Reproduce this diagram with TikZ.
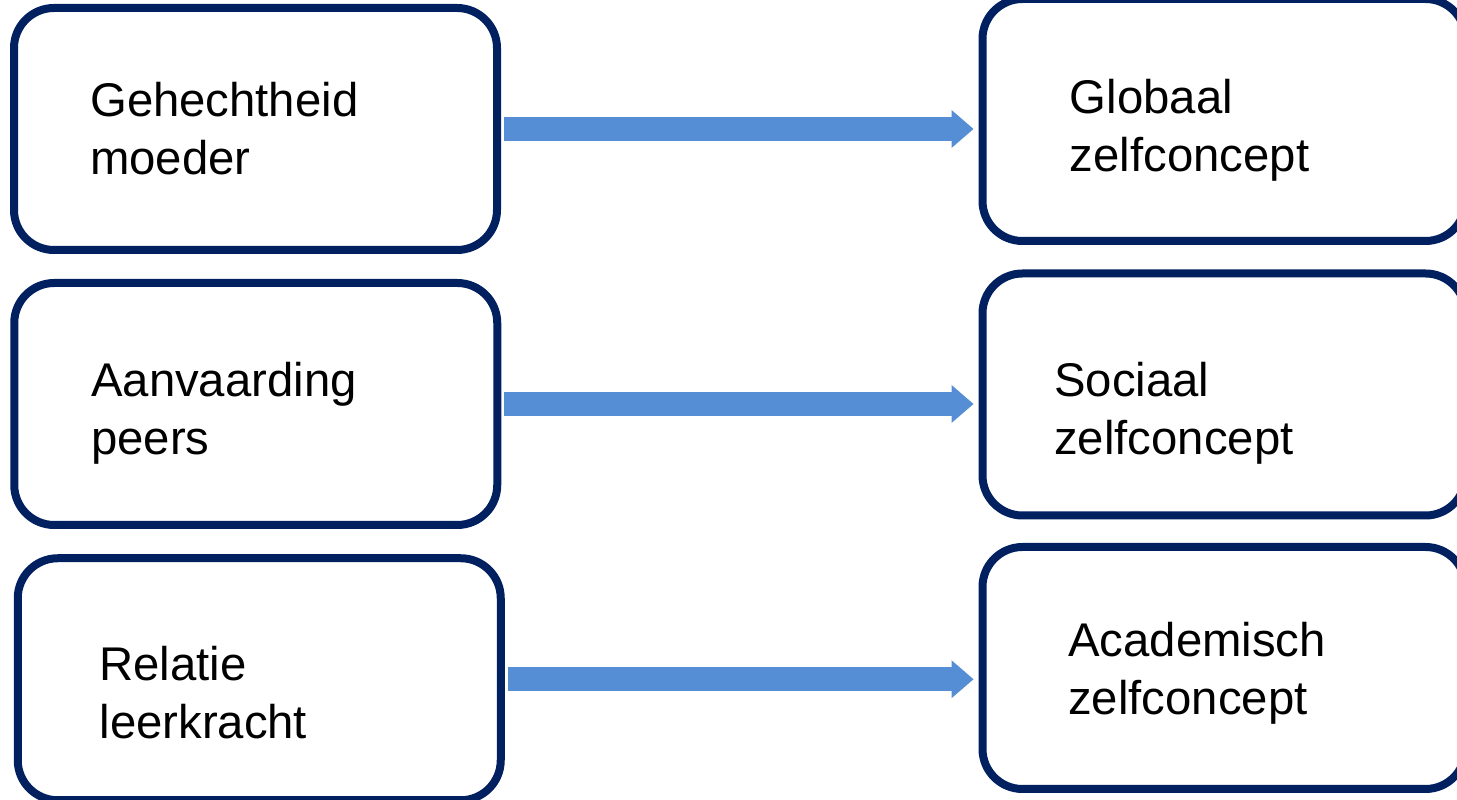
\documentclass[tikz,border=0pt]{standalone}
\usepackage{fontspec}
\setmainfont{Liberation Sans}
\usetikzlibrary{arrows.meta}
\definecolor{boxnavy}{HTML}{002060}
\definecolor{arrowblue}{HTML}{558ED5}

\begin{document}
\begin{tikzpicture}[x=1pt,y=1pt,
  vak/.style={draw=boxnavy, line width=8pt, rounded corners=40pt, minimum width=483pt, minimum height=242pt, inner sep=0pt},
  tekst/.style={anchor=base west, align=left, inner sep=0pt, font=\fontsize{47.3pt}{58pt}\selectfont},
  pijl/.style={arrowblue, line width=24pt, -{Triangle[length=22pt,width=38pt,line width=0pt]}, shorten <=3pt, shorten >=5pt}]
\useasboundingbox (0,0) rectangle (1457,800);
% linker kolom
\node[vak] (gehecht) at (255.5,671) {};
\node[vak] (aanvaard) at (255.75,396) {};
\node[vak] (relatie) at (259.25,120.75) {};
\node[tekst] (gehechtT) at (90,625) {Gehechtheid\\moeder};
\node[tekst] (aanvaardT) at (91,345.3) {Aanvaarding\\peers};
\node[tekst] (relatieT) at (99.3,61) {Relatie\\leerkracht};
% rechter kolom
\node[vak] (globaal) at (1224,680) {};
\node[vak] (sociaal) at (1224,405.5) {};
\node[vak] (academisch) at (1224,132) {};
\node[tekst] (globaalT) at (1069.7,628.5) {Globaal\\zelfconcept};
\node[tekst] (sociaalT) at (1054,345.7) {Sociaal\\zelfconcept};
\node[tekst] (academischT) at (1068,85.2) {Academisch\\zelfconcept};
% pijlen
\draw[pijl] (gehecht.east) -- (gehecht.east -| globaal.west);
\draw[pijl] (aanvaard.east) -- (aanvaard.east -| sociaal.west);
\draw[pijl] (relatie.east) -- (relatie.east -| academisch.west);
\end{tikzpicture}
\end{document}
